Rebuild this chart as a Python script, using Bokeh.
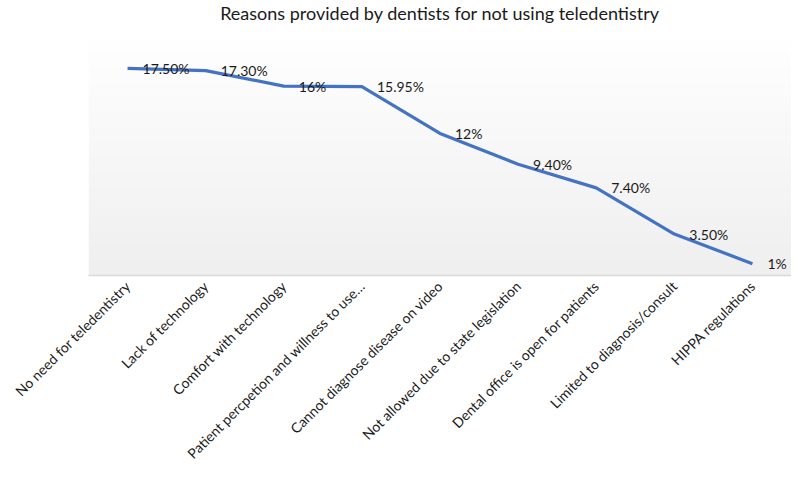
import numpy as np
from bokeh.plotting import figure
from bokeh.models import ColumnDataSource, FactorRange, Range1d, Title
from bokeh.core.properties import value
from bokeh.embed import file_html
from bokeh.resources import INLINE

categories = [
    "No need for teledentistry",
    "Lack of technology",
    "Comfort with technology",
    "Patient percpetion and willness to use…",
    "Cannot diagnose disease on video",
    "Not allowed due to state legislation",
    "Dental office is open for patients",
    "Limited to diagnosis/consult",
    "HIPPA regulations",
]
values = [17.5, 17.3, 16.0, 15.95, 12.0, 9.4, 7.4, 3.5, 1.0]
value_labels = ["17.50%", "17.30%", "16%", "15.95%", "12%", "9.40%", "7.40%", "3.50%", "1%"]
title_text = "Reasons provided by dentists for not using teledentistry"

FONT = "Lato"
PLOT_TOP = 20  # value at the top of the shaded plot area

p = figure(
    x_range=FactorRange(*categories),
    y_range=Range1d(0, 21.2),
    width=791, height=470,
    output_backend="svg", toolbar_location=None,
    min_border_left=88, min_border_right=0,
    min_border_top=10, min_border_bottom=190,
)
p.title = Title(text=title_text, align="center", vertical_align="middle",
                text_font=FONT, text_font_size="18px", text_font_style="normal",
                text_color="#1a1a1a", standoff=0)
p.outline_line_color = None
p.background_fill_color = "white"
p.border_fill_color = "white"
p.xgrid.grid_line_color = None
p.ygrid.grid_line_color = None
p.yaxis.visible = False

# vertical gradient background of the plot area
n = 64
shade = np.linspace(239, 255, n).astype(np.uint32)
img = np.empty((n, 1), dtype=np.uint32)
view = img.view(dtype=np.uint8).reshape((n, 1, 4))
view[:, 0, 0] = shade
view[:, 0, 1] = shade
view[:, 0, 2] = shade
view[:, 0, 3] = 255
p.image_rgba(image=[img], x=0, y=0, dw=len(categories), dh=PLOT_TOP)

src = ColumnDataSource(dict(cat=categories, val=values, lab=value_labels))
p.line(x="cat", y="val", source=src, line_color="#4472C4", line_width=3.2)
p.text(x="cat", y="val", text="lab", source=src, x_offset=15,
       text_baseline="middle", text_align="left",
       text_font=value(FONT), text_font_size="14px", text_color="#1a1a1a")

ax = p.xaxis[0]
ax.axis_line_color = "#d9d9d9"
ax.axis_line_width = 1.5
ax.major_tick_line_color = None
ax.minor_tick_line_color = None
ax.major_tick_out = 0
ax.major_tick_in = 0
ax.minor_tick_out = 0
ax.major_label_orientation = np.pi / 4
ax.major_label_text_font = FONT
ax.major_label_text_font_size = "14px"
ax.major_label_text_color = "#1a1a1a"
ax.major_label_standoff = 8

open("out.html", "w").write(file_html(p, INLINE))
